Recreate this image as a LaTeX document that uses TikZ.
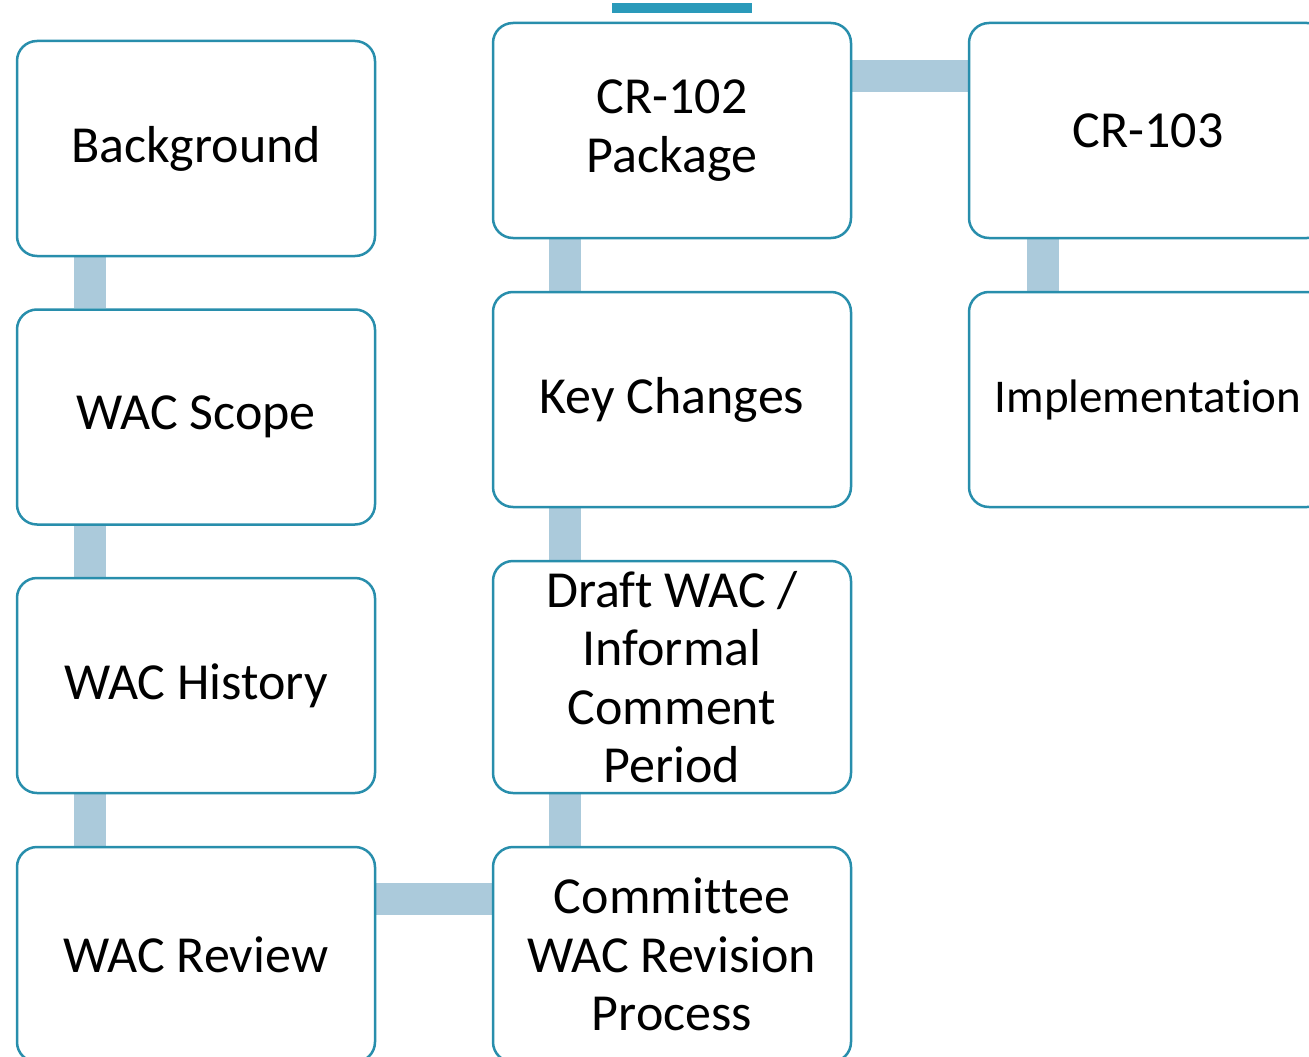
\documentclass[tikz,border=0pt]{standalone}
\usepackage{fontspec}
\setmainfont{Carlito}[Ligatures={NoCommon,NoRequired,NoContextual},RawFeature={-liga;-clig;-calt;-dlig;-rlig}]
\usetikzlibrary{backgrounds}
\definecolor{boxline}{RGB}{40,142,172}
\definecolor{connfill}{RGB}{171,202,219}
\definecolor{topbar}{RGB}{42,154,186}
\tikzset{
  stepbox/.style={draw=boxline, line width=2.5pt, fill=white, rounded corners=20pt,
    rectangle, minimum width=358pt, minimum height=215pt, inner sep=0pt,
    align=center, font=\fontsize{52}{58.5}\selectfont},
  conn/.style={draw=connfill, line width=32pt},
}
\begin{document}
\begin{tikzpicture}[x=1pt, y=-1pt]
\useasboundingbox (0,0) rectangle (1309,1057);
\clip (0,0) rectangle (1309,1057);
\fill[topbar] (612,3) rectangle (752,13);

% left column
\node[stepbox] (bg) at (196,148.5) {Background};
\node[stepbox] (scope) at (196,417) {WAC Scope};
\node[stepbox] (hist) at (196,685.5) {WAC History};
\node[stepbox] (review) at (196,954.5) {WAC Review};
% middle column
\node[stepbox] (cr102) at (672,130.5) {CR-102\\Package};
\node[stepbox] (key) at (672,399.5) {Key Changes};
\node[stepbox, minimum height=232pt] (draft) at (672,677) {Draf\kern0pt t WAC /\\Informal\\Comment\\Period};
\node[stepbox] (comm) at (672,954.5) {Commit\kern0pt tee\\WAC Revision\\Process};
% right column
\node[stepbox] (cr103) at (1148,130.5) {CR-103};
\node[stepbox, font=\fontsize{47}{56}\selectfont] (impl) at (1148,399.5) {Implementat\kern0pt ion};

\begin{scope}[on background layer]
\draw[conn] ([xshift=-106pt]bg.south) -- ([xshift=-106pt]scope.north);
\draw[conn] ([xshift=-106pt]scope.south) -- ([xshift=-106pt]hist.north);
\draw[conn] ([xshift=-106pt]hist.south) -- ([xshift=-106pt]review.north);
\draw[conn] ([yshift=55.5pt]review.east) -- ([yshift=55.5pt]comm.west);
\draw[conn] ([xshift=-107pt]comm.north) -- ([xshift=-107pt]draft.south);
\draw[conn] ([xshift=-107pt]draft.north) -- ([xshift=-107pt]key.south);
\draw[conn] ([xshift=-107pt]key.north) -- ([xshift=-107pt]cr102.south);
\draw[conn] ([yshift=54.5pt]cr102.east) -- ([yshift=54.5pt]cr103.west);
\draw[conn] ([xshift=-105.5pt]cr103.south) -- ([xshift=-105.5pt]impl.north);
\end{scope}
\end{tikzpicture}
\end{document}
